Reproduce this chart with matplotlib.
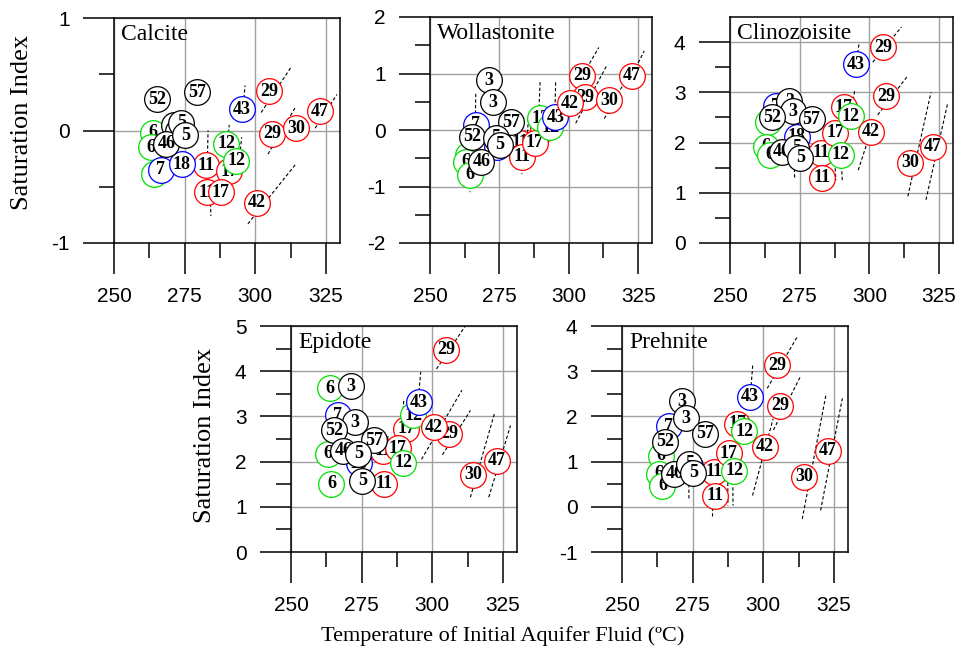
import numpy as np
import matplotlib.pyplot as plt

plt.rcParams['axes.unicode_minus'] = False

# ── DATA ──────────────────────────────────────────────────────────────────────
# samples in drawing order (later ones sit on top)
labels = ["29", "29", "30", "47", "11", "11", "17", "17", "6", "6", "6", "7", "18",
          "3", "3", "52", "57", "46", "5", "5", "12", "12", "43", "42"]
edges  = ["red"] * 8 + ["#00e000"] * 3 + ["blue"] * 2 + ["black"] * 7 + \
         ["#00e000"] * 2 + ["blue", "red"]
temps  = [304.8, 306.0, 314.5, 322.8, 282.6, 283.0, 290.8, 287.8, 263.8, 263.0,
          264.3, 266.5, 274.0, 271.3, 272.6, 265.2, 279.3, 268.5, 273.8, 275.2,
          289.8, 293.3, 295.2, 300.5]

si_calcite      = [0.35, -0.03, 0.02, 0.17, -0.31, -0.55, -0.36, -0.55, -0.02, -0.15,
                   -0.39, -0.35, -0.30, 0.05, 0.00, 0.28, 0.34, -0.12, 0.07, -0.04,
                   -0.12, -0.27, 0.19, -0.64]
si_wollastonite = [0.96, 0.58, 0.53, 0.96, -0.23, -0.47, 0.02, -0.23, -0.45, -0.56,
                   -0.79, 0.09, -0.30, 0.88, 0.49, -0.12, 0.14, -0.56, -0.14, -0.26,
                   0.21, 0.05, 0.23, 0.47]
si_clinozoisite = [3.90, 2.92, 1.60, 1.92, 1.80, 1.30, 2.70, 2.20, 2.40, 1.92,
                   1.76, 2.72, 2.12, 2.82, 2.62, 2.50, 2.46, 1.82, 1.90, 1.70,
                   1.76, 2.52, 3.56, 2.22]
si_epidote      = [4.47, 2.62, 1.71, 2.02, 2.24, 1.51, 2.73, 2.29, 3.62, 2.17,
                   1.51, 3.02, 1.96, 3.67, 2.87, 2.69, 2.47, 2.24, 2.17, 1.58,
                   1.98, 3.02, 3.31, 2.76]
si_prehnite     = [3.13, 2.24, 0.67, 1.24, 0.78, 0.24, 1.84, 1.18, 1.13, 0.73,
                   0.47, 1.78, 0.90, 2.33, 1.96, 1.44, 1.62, 0.73, 0.95, 0.75,
                   0.80, 1.67, 2.44, 1.33]

# dashed trend segments: (T start, SI start, T end, SI end)
trend_calcite = [(302.1, 0.16, 312.6, 0.56), (321.2, 0.02, 328.9, 0.32),
                 (304.5, -0.21, 314.3, 0.21), (297.4, -0.83, 314.3, -0.30),
                 (295.6, 0.19, 296.4, 0.40), (290.2, -0.12, 290.8, 0.05),
                 (294.3, -0.27, 295.2, -0.06), (283.0, -0.31, 283.3, 0.00),
                 (284.0, -0.55, 284.3, -0.76)]
trend_wollastonite = [(302.5, 0.75, 310.8, 1.46), (302.5, 0.12, 313.7, 1.14),
                      (312.8, 0.20, 319.8, 0.82), (320.5, 0.75, 327.2, 1.40),
                      (294.8, -0.10, 295.3, 0.88), (289.0, 0.10, 289.7, 0.86),
                      (285.0, -0.25, 285.4, 0.20), (283.0, -0.47, 283.1, -0.78),
                      (264.3, -0.79, 264.4, -1.10), (266.3, 0.09, 266.5, 0.65)]
trend_clinozoisite = [(301.2, 3.60, 311.5, 4.30), (295.3, 3.56, 296.3, 3.98),
                      (303.0, 2.55, 313.5, 3.31), (296.0, 1.45, 300.5, 2.22),
                      (293.3, 2.52, 294.8, 3.06), (313.8, 0.93, 322.1, 3.00),
                      (320.3, 0.86, 328.0, 2.76), (289.8, 1.76, 290.3, 1.23),
                      (287.6, 1.60, 288.0, 1.25), (273.0, 1.70, 273.2, 1.28),
                      (282.5, 1.30, 282.6, 1.08)]
trend_epidote = [(301.5, 4.05, 311.7, 5.00), (303.6, 2.15, 313.5, 3.13),
                 (296.2, 2.05, 310.5, 3.58), (295.0, 3.31, 295.9, 3.98),
                 (313.5, 1.21, 322.0, 3.06), (320.0, 1.21, 327.7, 2.80),
                 (289.7, 1.98, 289.8, 1.70), (263.8, 1.51, 264.0, 1.15),
                 (284.0, 2.00, 284.3, 2.60), (289.5, 2.90, 289.9, 3.35)]
trend_prehnite = [(301.4, 2.62, 312.1, 3.77), (295.4, 2.44, 296.3, 3.15),
                  (303.6, 1.70, 313.3, 2.90), (296.2, 0.25, 303.5, 1.95),
                  (313.8, -0.27, 322.3, 2.51), (320.3, -0.08, 328.0, 2.40),
                  (287.4, 0.90, 287.5, 0.03), (289.2, 0.80, 289.3, 0.03),
                  (281.9, 0.24, 281.9, -0.20), (273.6, 0.75, 273.7, 0.16),
                  (265.1, 0.47, 265.2, 0.20)]

# ── LAYOUT (pixel boxes: left, top, right, bottom) ───────────────────────────
W, H = 961, 653
panels = [
    ("Calcite",      si_calcite,      trend_calcite,      (-1, 1),   (114, 18, 340, 243)),
    ("Wollastonite", si_wollastonite, trend_wollastonite, (-2, 2),   (430, 17, 652, 243)),
    ("Clinozoisite", si_clinozoisite, trend_clinozoisite, (0, 4.5),  (730, 17, 953, 243)),
    ("Epidote",      si_epidote,      trend_epidote,      (0, 5),    (291, 326, 517, 552)),
    ("Prehnite",     si_prehnite,     trend_prehnite,     (-1, 4),   (622, 326, 848, 552)),
]

SERIF = "Liberation Serif"
SANS  = "Liberation Sans"

fig = plt.figure(figsize=(W / 100, H / 100), dpi=100)

for name, si, trends, ylim, (l, t, r, b) in panels:
    ax = fig.add_axes([l / W, 1 - b / H, (r - l) / W, (b - t) / H])
    ax.set_xlim(250, 330)
    ax.set_ylim(*ylim)

    ymaj = np.arange(np.ceil(ylim[0]), np.floor(ylim[1]) + 0.01, 1.0)
    ymin = ymaj[:-1] + 0.5
    ax.set_xticks([250, 275, 300, 325])
    ax.set_xticks([262.5, 287.5, 312.5], minor=True)
    ax.set_yticks(ymaj)
    ax.set_yticks(ymin, minor=True)
    ax.set_yticklabels([f"{v:g}" for v in ymaj])

    ax.grid(True, which="major", color="#a0a0a0", lw=1.0, zorder=0)
    ax.set_axisbelow(True)
    ax.tick_params(which="major", direction="out", length=22, width=1.1,
                   pad=10, labelsize=15)
    ax.tick_params(which="minor", direction="out", length=11, width=1.1)
    for lab in ax.get_xticklabels() + ax.get_yticklabels():
        lab.set_family(SANS)
    for sp in ax.spines.values():
        sp.set_linewidth(1.1)

    for t0, s0, t1, s1 in trends:
        ax.plot([t0, t1], [s0, s1], color="black", lw=0.8,
                linestyle=(0, (3, 2)), zorder=2)

    for i, (lab, ec, x, y) in enumerate(zip(labels, edges, temps, si)):
        ax.plot(x, y, "o", ms=18.5, mfc="white", mec=ec, mew=0.9,
                zorder=3 + 2 * i)
        ax.text(x, y, lab, ha="center", va="center", fontsize=13,
                fontweight="bold", family=SERIF, zorder=4 + 2 * i)

    ax.annotate(name, xy=(0, 1), xycoords="axes fraction",
                xytext=(5, -4), textcoords="offset points",
                ha="left", va="top", fontsize=17, family=SERIF, zorder=100)

fig.text(22 / W, 1 - 122 / H, "Saturation Index", rotation=90,
         ha="center", va="center", fontsize=19, family=SERIF)
fig.text(205 / W, 1 - 435 / H, "Saturation Index", rotation=90,
         ha="center", va="center", fontsize=19, family=SERIF)
fig.text(503 / W, 1 - 636 / H, "Temperature of Initial Aquifer Fluid (\u00baC)",
         ha="center", va="center", fontsize=16, family=SERIF)

fig.savefig("out.png", dpi=100)
